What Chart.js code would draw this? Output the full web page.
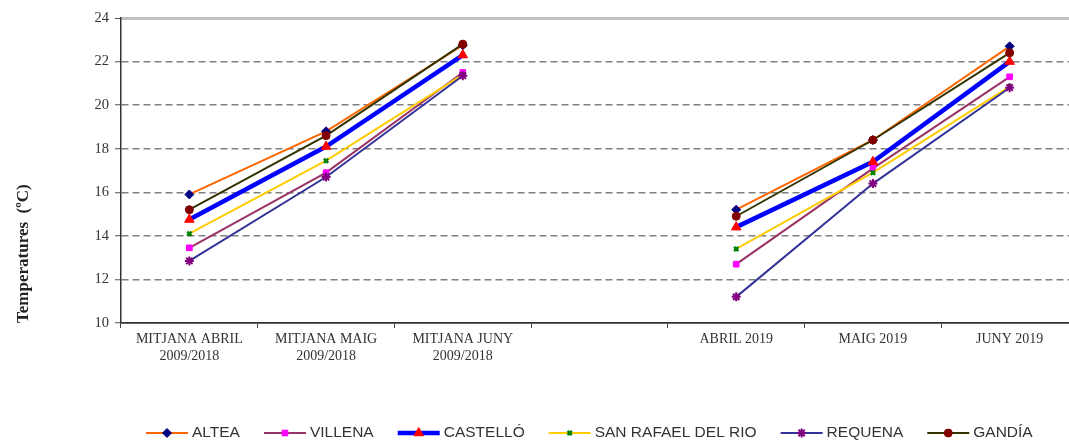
<!DOCTYPE html>
<html>
<head>
<meta charset="utf-8">
<script src="https://cdn.jsdelivr.net/npm/chart.js@4.4.1/dist/chart.umd.min.js"></script>
<style>
html,body{margin:0;padding:0;background:#fff;overflow:hidden;}
#wrap{width:1085px;height:443px;}
</style>
</head>
<body>
<div id="wrap"><canvas id="chart" width="1085" height="443"></canvas></div>
<script>
// categories (4th slot is the empty gap between the two periods)
const categories = [['MITJANA ABRIL','2009/2018'], ['MITJANA MAIG','2009/2018'], ['MITJANA JUNY','2009/2018'], '', 'ABRIL 2019', 'MAIG 2019', 'JUNY 2019'];
const seriesNames = ['ALTEA','VILLENA','CASTELLÓ','SAN RAFAEL DEL RIO','REQUENA','GANDÍA'];
const altea     = [15.9, 18.8, 22.75, null, 15.2, 18.4, 22.7];
const villena   = [13.45, 16.9, 21.5, null, 12.7, 17.1, 21.3];
const castello  = [14.75, 18.1, 22.3, null, 14.4, 17.4, 22.0];
const sanRafael = [14.1, 17.45, 21.4, null, 13.4, 16.9, 20.85];
const requena   = [12.85, 16.7, 21.35, null, 11.2, 16.4, 20.8];
const gandia    = [15.2, 18.6, 22.8, null, 14.9, 18.4, 22.4];
const yMin = 10, yMax = 24, yStep = 2;

const serif = '"Liberation Serif", "Times New Roman", serif';
const sans = '"Liberation Sans", Arial, sans-serif';

function ds(i, data, line, mark, style, r, lw, pbw){
  return {
    label: seriesNames[i], data,
    borderColor: line, borderWidth: lw,
    pointStyle: style, pointRadius: r, pointHoverRadius: r,
    pointBackgroundColor: mark, pointBorderColor: mark, pointBorderWidth: pbw,
    spanGaps: false, tension: 0, order: 5 - i
  };
}

const datasets = [
  ds(0, altea, '#FF6600', '#000080', 'rectRot', 4.5, 2, 1),
  ds(1, villena, '#993366', '#FF00FF', 'rect', 4, 2, 1),
  ds(2, castello, '#0000FF', '#FF0000', 'triangle', 5.5, 4.5, 1),
  ds(3, sanRafael, '#FFCC00', '#008000', 'crossRot', 3, 2, 2.5),
  ds(4, requena, '#333399', '#800080', 'star', 4.5, 2, 2),
  ds(5, gandia, '#333300', '#800000', 'circle', 4, 2, 1)
];

// line-with-marker legend at the bottom
const bottomLegend = {
  id: 'bottomLegend',
  afterDraw(chart){
    const ctx = chart.ctx;
    ctx.save();
    ctx.font = '15.5px ' + sans;
    const lineW = 42, gapT = 4, gapI = 24;
    let x = 146;
    const y = 433;
    chart.data.datasets.forEach(d=>{
      const w = ctx.measureText(d.label).width;
      ctx.setLineDash([]);
      ctx.strokeStyle = d.borderColor; ctx.lineWidth = d.borderWidth;
      ctx.beginPath(); ctx.moveTo(x,y); ctx.lineTo(x+lineW,y); ctx.stroke();
      ctx.fillStyle = d.pointBackgroundColor; ctx.strokeStyle = d.pointBorderColor; ctx.lineWidth = d.pointBorderWidth;
      if(Chart.helpers && Chart.helpers.drawPoint){
        Chart.helpers.drawPoint(ctx, {pointStyle:d.pointStyle, radius:d.pointRadius, borderWidth:d.pointBorderWidth, rotation:0}, x+lineW/2, y);
      }
      ctx.fillStyle = '#333';
      ctx.textBaseline = 'middle';
      ctx.textAlign = 'left';
      ctx.fillText(d.label, x+lineW+gapT, y);
      x += lineW + gapT + w + gapI;
    });
    ctx.restore();
  }
};

new Chart(document.getElementById('chart'), {
  type: 'line',
  data: { labels: categories, datasets },
  options: {
    responsive: false,
    animation: false,
    layout: { padding: { top: 18, right: 7, left: 0, bottom: 0 } },
    plugins: { legend: { display: false }, tooltip: { enabled: false } },
    scales: {
      x: {
        offset: true,
        grid: { offset: true, drawOnChartArea: false, tickLength: 5, color: '#444', tickWidth: 1 },
        border: { color: '#333', width: 1.5 },
        ticks: { autoSkip: false, maxRotation: 0, padding: 3, color: '#333', font: { family: serif, size: 14 } },
        afterFit(s){ s.height = 120; }
      },
      y: {
        min: yMin, max: yMax,
        ticks: { stepSize: yStep, padding: 6, color: '#333', font: { family: serif, size: 14.5 } },
        grid: {
          color: c => c.tick.value === yMax ? '#c0c0c0' : (c.tick.value === yMin ? '#333' : '#808080'),
          lineWidth: c => c.tick.value === yMax ? 3 : 1.5,
          tickColor: '#555', tickLength: 6, tickWidth: 1
        },
        border: {
          color: '#333', width: 1.5,
          dash: c => (c.tick && (c.tick.value === yMax || c.tick.value === yMin)) ? [] : [7,4]
        },
        title: {
          display: true, text: 'Temperatures  (ºC)', align: 'start',
          color: '#222', font: { family: serif, size: 17, weight: 'bold' },
          padding: { top: 13, bottom: 0 }
        },
        afterFit(s){ s.width = 121; }
      }
    }
  },
  plugins: [bottomLegend]
});
</script>
</body>
</html>
